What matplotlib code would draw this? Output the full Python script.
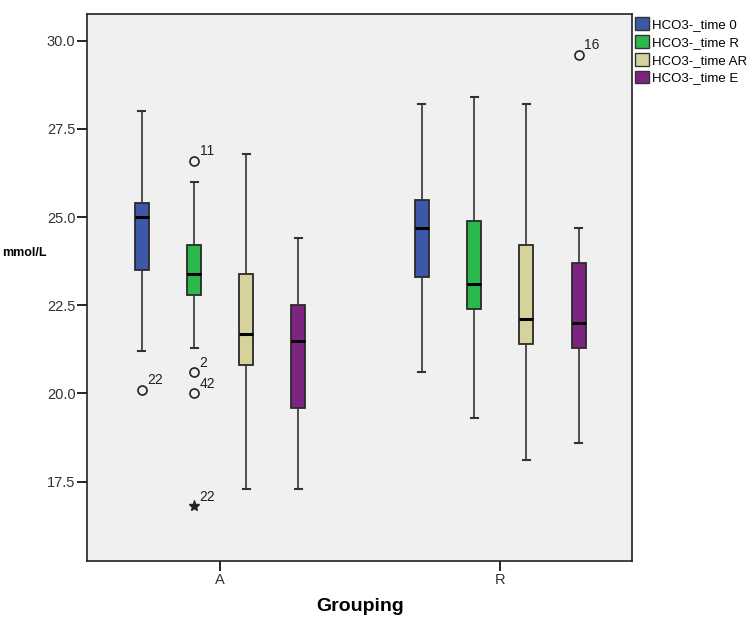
import matplotlib
matplotlib.use('Agg')
import matplotlib.pyplot as plt
from matplotlib.patches import Patch

plt.rcParams['font.family'] = ['Liberation Sans', 'DejaVu Sans']

groups = ['A', 'R']
series = ['HCO3-_time 0', 'HCO3-_time R', 'HCO3-_time AR', 'HCO3-_time E']
colors = ['#3D58A8', '#2DB84D', '#D5D39B', '#7D2382']

# (whisker low, q1, median, q3, whisker high) per series, per group
time_0 = [(21.2, 23.5, 25.0, 25.4, 28.0), (20.6, 23.3, 24.7, 25.5, 28.2)]
time_r = [(21.3, 22.8, 23.4, 24.2, 26.0), (19.3, 22.4, 23.1, 24.9, 28.4)]
time_ar = [(17.3, 20.8, 21.7, 23.4, 26.8), (18.1, 21.4, 22.1, 24.2, 28.2)]
time_e = [(17.3, 19.6, 21.5, 22.5, 24.4), (18.6, 21.3, 22.0, 23.7, 24.7)]
all_stats = [time_0, time_r, time_ar, time_e]

# outliers: (series index, group index, value, case label, kind)
outliers = [
    (0, 0, 20.1, '22', 'o'),
    (1, 0, 26.6, '11', 'o'),
    (1, 0, 20.6, '2', 'o'),
    (1, 0, 20.0, '42', 'o'),
    (1, 0, 16.8, '22', '*'),
    (3, 1, 29.6, '16', 'o'),
]

offsets = [-0.28, -0.093, 0.093, 0.28]
box_w = 0.05

fig = plt.figure(figsize=(7.5, 6.24), dpi=100)
ax = fig.add_axes([0.1164, 0.1005, 0.7263, 0.877])
ax.set_facecolor('#F0F0F0')

for si, stats in enumerate(all_stats):
    bstats = []
    pos = []
    for gi, (lo, q1, med, q3, hi) in enumerate(stats):
        bstats.append(dict(whislo=lo, q1=q1, med=med, q3=q3, whishi=hi, fliers=[]))
        pos.append(gi + offsets[si])
    ax.bxp(bstats, positions=pos, widths=box_w, capwidths=0.025, patch_artist=True,
           showfliers=False,
           boxprops=dict(facecolor=colors[si], edgecolor='#2a2a2a', linewidth=1.3),
           medianprops=dict(color='black', linewidth=2.2),
           whiskerprops=dict(color='#333333', linewidth=1.2),
           capprops=dict(color='#333333', linewidth=1.5))

for si, gi, val, lab, kind in outliers:
    x = gi + offsets[si]
    if kind == 'o':
        ax.plot(x, val, marker='o', ms=6.5, mfc='none', mec='#222222', mew=1.2)
    else:
        ax.plot(x, val, marker='*', ms=8, color='#222222')
    ax.annotate(lab, (x, val), xytext=(4, 4), textcoords='offset points',
                fontsize=10, color='#222222')

ax.set_xlim(-0.474, 1.471)
ax.set_ylim(15.24, 30.76)
ax.set_xticks([0, 1])
ax.set_xticklabels(groups, fontsize=10.5, color='#333333')
ax.set_yticks([17.5, 20.0, 22.5, 25.0, 27.5, 30.0])
ax.set_yticklabels(['17.5', '20.0', '22.5', '25.0', '27.5', '30.0'], fontsize=10.5, color='#333333')
ax.tick_params(direction='out', length=7, width=1.2, pad=1.5)
for sp in ax.spines.values():
    sp.set_linewidth(1.2)
    sp.set_color('#222222')

ax.set_xlabel('Grouping', fontsize=14, fontweight='bold', labelpad=8)
ax.set_ylabel('mmol/L', fontsize=9, fontweight='bold', rotation=0, va='center', ha='center')
ax.yaxis.set_label_coords(-0.116, 0.563)

handles = [Patch(facecolor=c, edgecolor='#333333', label=s) for c, s in zip(colors, series)]
ax.legend(handles=handles, loc='upper left', bbox_to_anchor=(1.0, 1.0), frameon=False,
          fontsize=9.5, handlelength=1.0, handleheight=1.1, handletextpad=0.3,
          labelspacing=0.3, borderaxespad=0.1, borderpad=0.15)

fig.savefig('out.png', dpi=100)
